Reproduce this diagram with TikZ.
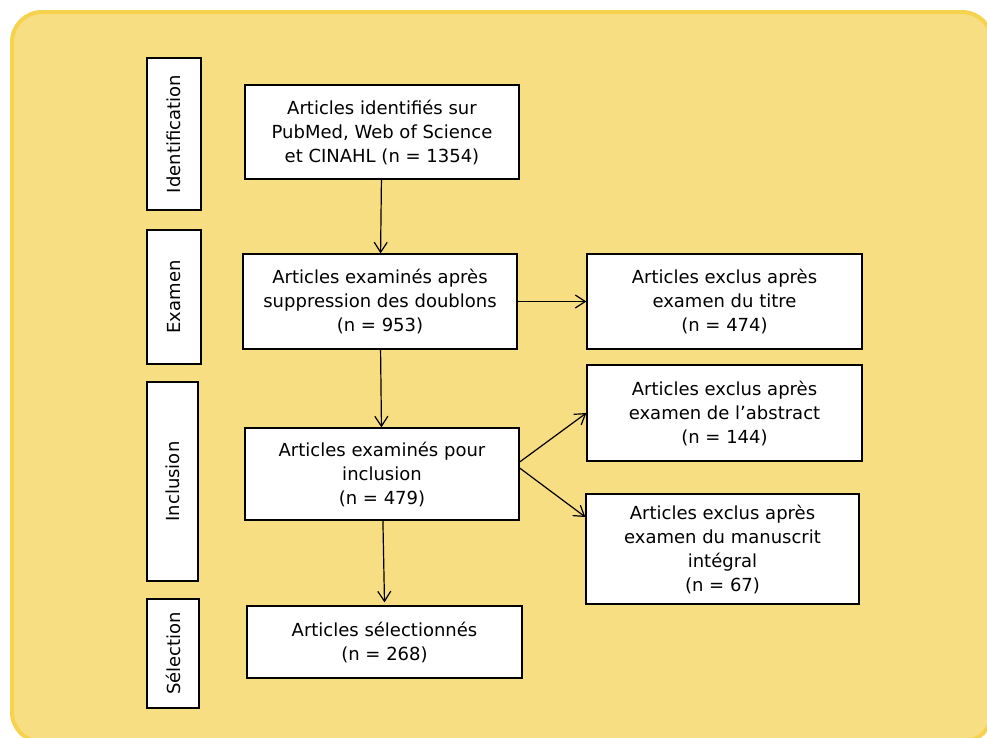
\documentclass[tikz,border=0pt]{standalone}
\usepackage{fontspec}
\setmainfont{DejaVu Sans}
\usepackage{tikz, xcolor}
\usetikzlibrary{shapes,arrows.meta}

\definecolor{panelfill}{RGB}{247,222,130}
\definecolor{paneldraw}{RGB}{246,210,78}

\begin{document}
\begin{tikzpicture}[x=1pt, y=-1pt, font=\fontsize{18}{24}\selectfont]
\tikzstyle{boxr}=[rectangle, draw=black, line width=1.3pt, fill=white, align=center, inner sep=2pt]
\tikzstyle{stager}=[rectangle, draw=black, line width=1.3pt, fill=white, rotate=90, inner sep=2pt]
\tikzstyle{drawstyle}=[line width=1.2pt, -{Straight Barb[length=10pt,width=13pt]}]

\useasboundingbox (0,0) rectangle (987,737);
\clip (0,0) rectangle (987,737);
\draw[fill=panelfill, draw=paneldraw, line width=4pt, rounded corners=30pt] (12,12) rectangle (992,742);

% stages
\node[stager, minimum width=152pt, minimum height=54pt] (S0) at (174,134) {Identification};
\node[stager, minimum width=134pt, minimum height=54pt] (S1) at (174,297) {Examen};
\node[stager, minimum width=199pt, minimum height=51pt] (S2) at (172.5,481.5) {Inclusion};
\node[stager, minimum width=109pt, minimum height=52pt] (S3) at (173,653.5) {Sélection};

% main column
\node[boxr, minimum width=274pt, minimum height=94pt] (A0) at (382,132) {Articles identifiés sur\\PubMed, Web of Science\\et CINAHL (n = 1354)};
\node[boxr, minimum width=274pt, minimum height=95pt] (A1) at (380,301.5) {Articles examinés après\\suppression des doublons\\(n = 953)};
\node[boxr, minimum width=274pt, minimum height=92pt] (A2) at (382,474) {Articles examinés pour\\inclusion\\(n = 479)};
\node[boxr, minimum width=275pt, minimum height=72pt] (A3) at (384.5,642) {Articles sélectionnés\\(n = 268)};

% exclusions
\node[boxr, minimum width=275pt, minimum height=95pt] (E1) at (724.5,301.5) {Articles exclus après\\examen du titre\\(n = 474)};
\node[boxr, minimum width=275pt, minimum height=96pt] (E2) at (724.5,413) {Articles exclus après\\examen de l’abstract\\(n = 144)};
\node[boxr, minimum width=273pt, minimum height=110pt] (E3) at (722.5,549) {Articles exclus après\\examen du manuscrit\\intégral\\(n = 67)};

\draw[drawstyle] (A0) -- (A1);
\draw[drawstyle] (A1) -- (A2);
\draw[drawstyle] (A2) -- ([yshift=3pt]A3.north);
\draw[drawstyle] (A1) -- (E1);
\draw[drawstyle] ([yshift=12pt]A2.east) -- (E2.west);
\draw[drawstyle] ([yshift=6pt]A2.east) -- ([yshift=32pt]E3.west);
\end{tikzpicture}
\end{document}
